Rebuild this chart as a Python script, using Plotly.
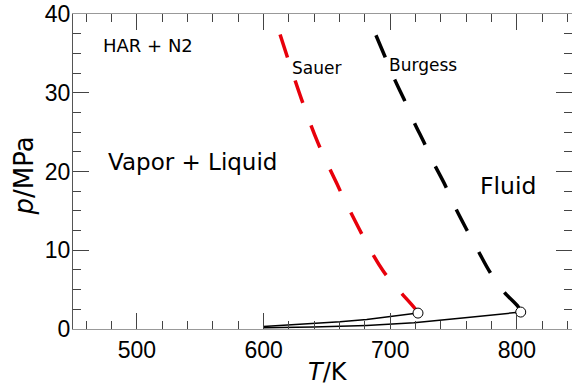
import plotly.graph_objects as go

# Sauer critical line (dashed red)
sauer_T = [613.0, 630.1, 643.0, 658.0, 666.6, 694.3, 719.5, 721.9]
sauer_p = [37.4, 29.1, 23.6, 18.4, 15.5, 7.4, 2.6, 2.02]

# Burgess critical line (dashed black)
burgess_T = [688.7, 695.8, 703.7, 710.8, 718.7, 726.6, 734.5, 743.2, 751.1, 760.4, 769.5, 778.8, 789.8, 801.1, 803.0]
burgess_p = [37.3, 34.6, 31.6, 29.2, 26.3, 23.7, 21.0, 18.3, 15.5, 12.6, 9.9, 7.2, 4.7, 2.8, 2.15]

# Vapor pressure-like curves (thin black)
low1_T = [599.8, 639.2, 660.3, 681.4, 699.7, 721.9]
low1_p = [0.33, 0.67, 0.93, 1.22, 1.60, 2.02]
low2_T = [599.8, 639.2, 681.4, 718.7, 759.0, 803.0]
low2_p = [0.17, 0.24, 0.46, 0.78, 1.44, 2.15]

# Critical points
crit_T = [721.9, 803.0]
crit_p = [2.02, 2.15]

x_range = [449.5, 843.5]
y_range = [0, 40]

fig = go.Figure()
fig.add_trace(go.Scatter(x=low1_T, y=low1_p, mode="lines",
                         line=dict(color="black", width=1.5), showlegend=False))
fig.add_trace(go.Scatter(x=low2_T, y=low2_p, mode="lines",
                         line=dict(color="black", width=1.5), showlegend=False))
fig.add_trace(go.Scatter(x=sauer_T, y=sauer_p, mode="lines",
                         line=dict(color="#e8000b", width=3.5, dash="24px,24px", shape="spline"),
                         showlegend=False))
fig.add_trace(go.Scatter(x=burgess_T, y=burgess_p, mode="lines",
                         line=dict(color="black", width=3.5, dash="24px,24px", shape="spline"),
                         showlegend=False))
fig.add_trace(go.Scatter(x=crit_T, y=crit_p, mode="markers",
                         marker=dict(size=10, color="white", line=dict(color="black", width=1)),
                         showlegend=False))

ann_font = "DejaVu Sans"
annotations = [
    dict(x=508.7, y=36.0, text="HAR + N2", font=dict(size=18, family=ann_font)),
    dict(x=543.9, y=21.2, text="Vapor + Liquid", font=dict(size=23, family=ann_font)),
    dict(x=793.0, y=18.2, text="Fluid", font=dict(size=23.5, family=ann_font)),
    dict(x=641.4, y=33.1, text="Sauer", font=dict(size=17, family=ann_font)),
    dict(x=725.9, y=33.5, text="Burgess", font=dict(size=17, family=ann_font)),
    dict(x=0, y=0.484, xref="paper", yref="paper", xshift=-49, text="<i>p</i>/MPa",
         textangle=-90, font=dict(size=26, family=ann_font)),
    dict(x=0.511, y=0, xref="paper", yref="paper", yshift=-43, text="<i>T</i>/K",
         font=dict(size=24, family=ann_font)),
]
for a in annotations:
    a.setdefault("xref", "x")
    a.setdefault("yref", "y")
    a["showarrow"] = False
    a["font"]["color"] = "black"
    a["xanchor"] = "center"
    a["yanchor"] = "middle"

fig.update_layout(
    width=572, height=386,
    margin=dict(l=73, r=0, t=14, b=57),
    paper_bgcolor="white", plot_bgcolor="white",
    annotations=annotations,
    font=dict(family="Liberation Sans, Arial", color="black"),
)
fig.update_xaxes(
    range=x_range, showgrid=False, zeroline=False,
    showline=True, linecolor="#999999", linewidth=1, mirror="ticks",
    ticks="inside", ticklen=16, tickwidth=1, tickcolor="#444444",
    tick0=0, dtick=100,
    minor=dict(ticks="inside", dtick=20, ticklen=8, tickcolor="#444444", showgrid=False),
    tickfont=dict(size=23, family="Liberation Sans, Arial", color="black"),
)
fig.update_yaxes(
    range=y_range, showgrid=False, zeroline=False,
    showline=True, linecolor="#555555", linewidth=1, mirror="ticks",
    ticks="inside", ticklen=16, tickwidth=1, tickcolor="#444444",
    tick0=0, dtick=10, ticklabelstandoff=-3,
    minor=dict(ticks="inside", dtick=2.5, ticklen=8, tickcolor="#444444", showgrid=False),
    tickfont=dict(size=23, family="Liberation Sans, Arial", color="black"),
)

fig.write_html("out.html")
